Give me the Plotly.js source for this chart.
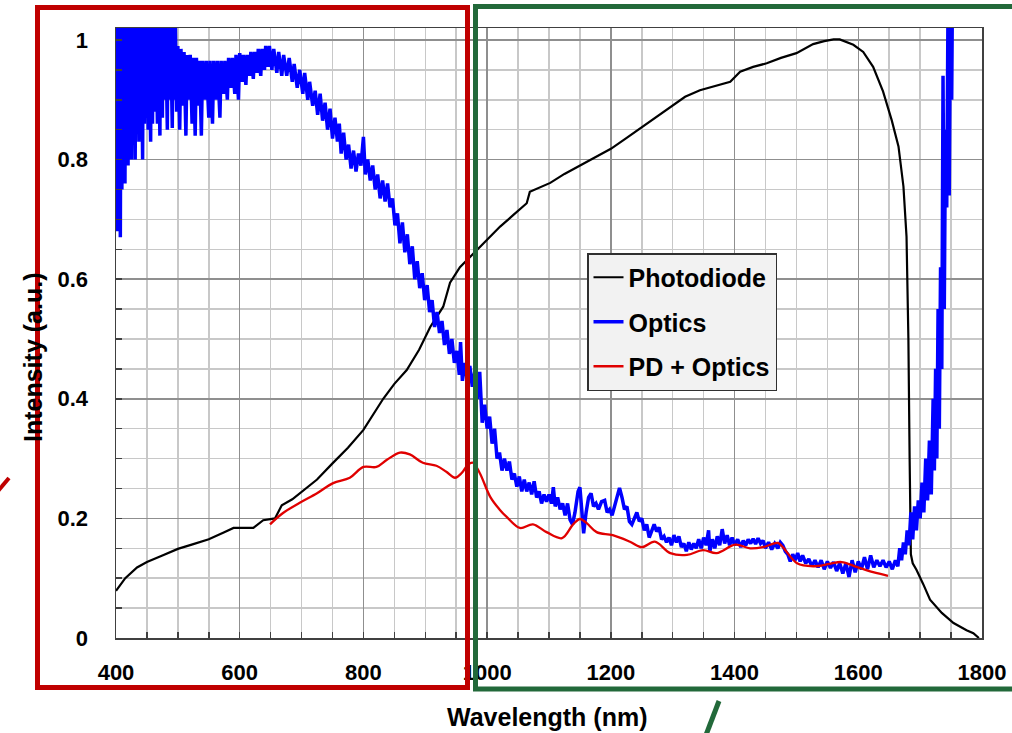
<!DOCTYPE html>
<html>
<head>
<meta charset="utf-8">
<script src="https://cdn.plot.ly/plotly-3.0.1.min.js"></script>
<style>html,body{margin:0;padding:0;background:#fff;}#chart{width:1012px;height:733px;}</style>
</head>
<body>
<div id="chart"></div>
<script>
// ---- data ----
const seriesNames = ["Photodiode", "Optics", "PD + Optics"];
const xTickValues = [400, 600, 800, 1000, 1200, 1400, 1600, 1800];
const yTickValues = [0, 0.2, 0.4, 0.6, 0.8, 1];
const yTickLabels = ["0", "0.2", "0.4", "0.6", "0.8", "1"];

const photodiodePoints = [
 [400,0.079],[415,0.10],[434,0.118],[450,0.127],[475,0.138],[500,0.149],[525,0.157],[550,0.165],
 [575,0.177],[590,0.184],[622,0.184],[638,0.197],[657,0.2],[662,0.21],[668,0.222],[685,0.232],
 [700,0.244],[725,0.265],[750,0.292],[775,0.318],[800,0.348],[815,0.372],[832,0.40],[850,0.425],[870,0.448],
 [890,0.482],[908,0.52],[929,0.554],[940,0.594],[956,0.62],[972,0.637],[993,0.66],[1021,0.688],
 [1042,0.707],[1064,0.727],[1069,0.746],[1102,0.761],[1125,0.776],[1150,0.79],[1175,0.805],
 [1200,0.818],[1225,0.836],[1247,0.852],[1274,0.872],[1300,0.89],[1320,0.905],[1344,0.916],
 [1355,0.919],[1393,0.930],[1409,0.947],[1430,0.955],[1452,0.961],[1475,0.97],[1500,0.978],
 [1527,0.993],[1545,0.998],[1560,1.001],[1570,1.001],[1592,0.992],[1608,0.98],[1624,0.955],
 [1640,0.914],[1654,0.866],[1665,0.822],[1673,0.755],[1678,0.671],[1681,0.5],[1683,0.3],
 [1685,0.14],[1688,0.125],[1694,0.114],[1705,0.09],[1716,0.064],[1735,0.042],[1754,0.025],
 [1775,0.013],[1786,0.008],[1795,0.0]
];

const opticsPoints = [
 [400,0.74],[401,1.03],[402.5,0.68],[403.5,1.03],[405,0.80],[406,1.03],[407,0.67],[408,1.03],
 [409.5,0.75],[410.5,1.03],[412,0.78],[413,1.03],[414.5,0.76],[415.5,1.03],[417,0.80],[418,1.03],
 [419.5,0.79],[420.5,1.03],[422,0.82],[423,1.03],[425,0.80],[426,1.03],[428,0.85],[429,1.03],
 [431,0.80],[432,1.03],[434,0.86],[435,1.03],[437,0.83],[438,1.03],[440,0.87],[441,1.03],
 [443,0.80],[444,1.03],[446,0.86],[447,1.03],[449,0.87],[450,1.03],[452,0.85],[453,1.03],
 [456,0.83],[457,1.03],[459,0.86],[460,1.03],[463,0.88],[464,1.03],[467,0.86],[468,1.03],
 [471,0.84],[472,1.03],[475,0.87],[476,1.03],[479,0.90],[480,1.03],[483,0.85],[484,1.03],
 [487,0.90],[488,1.03],[491,0.853],[492,1.03],[495,0.90],[496,1.02],
 [498,0.88],[500,0.99],[503,0.85],[505,0.985],[508,0.89],[510,0.98],[513,0.84],[515,0.975],
 [518,0.90],[520,0.975],[523,0.86],[525,0.97],[528,0.84],[530,0.97],[533,0.89],[535,0.965],
 [538,0.84],[540,0.965],[544,0.90],[546,0.965],[550,0.87],[552,0.965],[556,0.86],[558,0.965],
 [562,0.90],[564,0.965],[568,0.87],[570,0.965],[574,0.91],[576,0.965],[580,0.90],[582,0.97],
 [586,0.92],[588,0.97],[592,0.91],[594,0.975],[598,0.90],[600,0.978],[604,0.93],[606,0.975],
 [610,0.925],[612,0.975],[616,0.94],[618,0.98],[622,0.935],[624,0.98],[628,0.945],[630,0.985],
 [634,0.94],[636,0.985],[640,0.95],[642,0.99],[646,0.955],[648,0.99],
 [652,0.95],[655,0.985],[660,0.945],[663,0.98],[668,0.94],[671,0.975],[676,0.94],[680,0.97],
 [685,0.93],[688,0.96],[693,0.92],[697,0.95],[702,0.91],[705,0.945],[710,0.90],[713,0.93],
 [718,0.89],[722,0.915],[726,0.875],[730,0.91],[734,0.865],[738,0.895],[742,0.85],[746,0.885],
 [750,0.835],[754,0.87],[758,0.83],[761,0.86],[764,0.81],[768,0.845],[772,0.80],[776,0.825],
 [780,0.785],[784,0.815],[788,0.78],[792,0.81],[796,0.79],[800,0.838],[803,0.775],[807,0.80],
 [811,0.765],[815,0.79],[819,0.75],[823,0.775],[827,0.735],[831,0.765],[835,0.73],[839,0.76],
 [843,0.72],[847,0.735],[851,0.69],[855,0.71],[859,0.66],[863,0.695],[867,0.645],[871,0.675],
 [875,0.625],[879,0.655],[883,0.60],[887,0.63],[891,0.585],[895,0.61],[899,0.565],[903,0.59],
 [907,0.545],[911,0.565],[915,0.52],[919,0.545],[923,0.51],[927,0.53],[931,0.49],[935,0.515],
 [939,0.475],[943,0.50],[947,0.46],[951,0.48],[955,0.44],[957,0.495],[960,0.43],[964,0.46],
 [968,0.43],[972,0.455],[976,0.42],[980,0.445],[984,0.40],[988,0.445],[992,0.36],[996,0.39],
 [1000,0.35],[1004,0.37],[1008,0.325],[1012,0.35],[1016,0.30],[1020,0.31],[1024,0.28],[1028,0.30],
 [1032,0.28],[1036,0.295],[1040,0.265],[1044,0.275],[1048,0.253],[1052,0.27],[1056,0.245],
 [1060,0.265],[1064,0.245],[1068,0.26],[1072,0.24],[1076,0.262],[1080,0.235],[1084,0.245],
 [1088,0.225],[1092,0.24],[1096,0.228],[1100,0.24],[1104,0.225],[1107,0.252],[1110,0.22],
 [1114,0.235],[1118,0.215],[1122,0.225],[1126,0.205],[1130,0.225],[1134,0.198],[1138,0.19],
 [1142,0.21],[1147,0.245],[1150,0.252],[1153,0.21],[1156,0.175],[1160,0.21],[1164,0.235],
 [1168,0.242],[1172,0.22],[1176,0.225],[1180,0.215],[1185,0.228],[1190,0.23],[1194,0.21],
 [1198,0.215],[1202,0.205],[1206,0.22],[1210,0.24],[1214,0.251],[1218,0.235],[1222,0.215],
 [1226,0.22],[1230,0.195],[1234,0.19],[1238,0.2],[1242,0.21],[1246,0.195],[1250,0.2],
 [1254,0.18],[1258,0.19],[1262,0.168],[1266,0.18],[1270,0.19],[1274,0.178],[1278,0.185],
 [1282,0.165],[1286,0.17],[1290,0.16],[1294,0.168],[1298,0.155],[1302,0.172],[1306,0.16],
 [1310,0.17],[1314,0.152],[1318,0.158],[1322,0.145],[1326,0.16],[1330,0.148],[1334,0.158],
 [1338,0.15],[1342,0.165],[1346,0.15],[1350,0.168],[1354,0.155],[1358,0.18],[1360,0.145],
 [1364,0.165],[1368,0.15],[1372,0.17],[1376,0.155],[1380,0.182],[1384,0.158],[1388,0.172],
 [1392,0.155],[1396,0.168],[1400,0.155],[1405,0.165],[1410,0.152],[1414,0.163],[1418,0.155],
 [1422,0.165],[1426,0.158],[1430,0.166],[1434,0.157],[1438,0.167],[1442,0.158],[1446,0.163],
 [1450,0.15],[1455,0.16],[1460,0.148],[1465,0.158],[1470,0.15],[1474,0.16],[1478,0.155],
 [1482,0.145],[1486,0.14],[1490,0.128],[1494,0.14],[1498,0.13],[1502,0.142],[1506,0.128],
 [1510,0.138],[1515,0.125],[1520,0.132],[1525,0.12],[1530,0.13],[1535,0.118],[1540,0.13],
 [1545,0.115],[1550,0.128],[1555,0.117],[1560,0.127],[1565,0.112],[1570,0.125],[1575,0.108],
 [1580,0.125],[1585,0.102],[1590,0.13],[1595,0.11],[1600,0.128],[1605,0.115],[1610,0.135],
 [1615,0.115],[1620,0.138],[1625,0.118],[1630,0.13],[1635,0.12],[1640,0.13],[1645,0.118],
 [1650,0.128],[1655,0.115],[1660,0.13],[1664,0.12],[1667,0.15],[1670,0.13],[1673,0.16],
 [1676,0.14],[1679,0.18],[1682,0.155],[1685,0.21],[1688,0.165],[1691,0.22],[1694,0.18],
 [1697,0.23],[1700,0.2],[1703,0.26],[1706,0.21],[1709,0.30],[1712,0.23],[1715,0.33],
 [1718,0.24],[1721,0.40],[1723,0.28],[1725,0.45],[1727,0.30],[1729,0.55],[1731,0.35],
 [1733,0.62],[1735,0.45],[1737,0.94],[1739,0.55],[1741,0.85],[1743,0.72],[1745,1.05],
 [1747,0.74],[1749,1.05],[1751,0.9],[1752,1.05]
];

const pdOpticsPoints = [
 [649,0.19],[670,0.209],[697,0.226],[725,0.242],[751,0.259],[778,0.268],[800,0.286],[821,0.286],
 [838,0.298],[859,0.310],[875,0.307],[896,0.293],[918,0.288],[934,0.278],[948,0.268],[959,0.276],
 [969,0.29],[977,0.293],[988,0.276],[1005,0.236],[1020,0.215],[1032,0.202],[1053,0.184],
 [1074,0.19],[1096,0.177],[1121,0.167],[1139,0.19],[1150,0.199],[1161,0.192],[1177,0.177],
 [1203,0.172],[1231,0.161],[1250,0.152],[1271,0.161],[1296,0.142],[1323,0.139],[1349,0.147],
 [1371,0.142],[1401,0.156],[1425,0.15],[1446,0.152],[1470,0.159],[1478,0.152],[1501,0.125],
 [1527,0.12],[1554,0.124],[1573,0.127],[1597,0.119],[1624,0.11],[1648,0.104]
];

// ---- chart ----
const FONT = "Liberation Sans, Arial, sans-serif";
function xs(p){ return p.map(d => d[0]); }
function ys(p){ return p.map(d => d[1]); }

const traces = [
  {x: xs(photodiodePoints), y: ys(photodiodePoints), name: seriesNames[0], legendgroup: "a",
   mode: "lines", line: {color: "#000000", width: 2.2}},
  {x: xs(opticsPoints), y: ys(opticsPoints), name: seriesNames[1], legendgroup: "b",
   mode: "lines", line: {color: "#0000ff", width: 3.5}},
  {x: xs(pdOpticsPoints), y: ys(pdOpticsPoints), name: seriesNames[2], legendgroup: "c",
   mode: "lines", line: {color: "#e00000", width: 2.3, shape: "spline"}}
];

// pixel -> paper helpers for the overlay marks (plot area 116..982 x 28..638)
const L = 116, R = 982, T = 28, B = 638;
const px = v => (v - L) / (R - L);
const py = v => (B - v) / (B - T);

const layout = {
  width: 1012, height: 733,
  margin: {l: L, r: 1012 - R, t: T, b: 733 - B, pad: 0},
  paper_bgcolor: "#ffffff", plot_bgcolor: "#ffffff",
  font: {family: FONT, color: "#000"},
  showlegend: true,
  legend: {
    x: px(587), y: py(253), xanchor: "left", yanchor: "top",
    bgcolor: "#f2f2f2", bordercolor: "#303030", borderwidth: 1.5,
    font: {family: FONT, size: 25, weight: "bold", color: "#000"},
    tracegroupgap: 9, traceorder: "grouped", itemwidth: 30
  },
  xaxis: {
    range: [400, 1800], tickvals: xTickValues, ticktext: xTickValues.map(String),
    showgrid: true, gridcolor: "#8f8f8f", gridwidth: 1.5,
    ticks: "inside", ticklen: 6, tickcolor: "#404040", tickwidth: 1.5,
    showline: true, linecolor: "#404040", linewidth: 1.5, mirror: true,
    zeroline: false, ticklabelstandoff: 14,
    tickfont: {family: FONT, size: 22, weight: "bold", color: "#000"},
    minor: {dtick: 50, showgrid: true, gridcolor: "#c8c8c8", gridwidth: 1.5,
            ticks: "inside", ticklen: 6, tickcolor: "#404040"}
  },
  yaxis: {
    range: [0, 1.02], tickvals: yTickValues, ticktext: yTickLabels,
    showgrid: true, gridcolor: "#8f8f8f", gridwidth: 1.5,
    ticks: "inside", ticklen: 6, tickcolor: "#404040", tickwidth: 1.5,
    showline: true, linecolor: "#404040", linewidth: 1.5, mirror: true,
    zeroline: false, ticklabelstandoff: 22,
    tickfont: {family: FONT, size: 22, weight: "bold", color: "#000"},
    minor: {dtick: 0.05, showgrid: true, gridcolor: "#c8c8c8", gridwidth: 1.5,
            ticks: "inside", ticklen: 6, tickcolor: "#404040"}
  },
  annotations: [
    {text: "<b>Wavelength (nm)</b>", xref: "paper", yref: "paper", x: px(547), y: py(717),
     xanchor: "center", yanchor: "middle", showarrow: false,
     font: {family: FONT, size: 25, color: "#000"}},
    {text: "<b>Intensity (a.u.)</b>", xref: "paper", yref: "paper", x: px(33), y: py(358),
     xanchor: "center", yanchor: "middle", showarrow: false, textangle: -90,
     font: {family: FONT, size: 25, color: "#000"}}
  ],
  shapes: [
    {type: "rect", xref: "paper", yref: "paper", layer: "above",
     x0: px(37.5), x1: px(467.5), y0: py(687.5), y1: py(7.5),
     line: {color: "#c00000", width: 5}},
    {type: "rect", xref: "paper", yref: "paper", layer: "above",
     x0: px(475.5), x1: px(1025), y0: py(689), y1: py(6.5),
     line: {color: "#22693a", width: 5}},
    {type: "line", xref: "paper", yref: "paper", layer: "above",
     x0: px(-2), y0: py(491), x1: px(9), y1: py(478),
     line: {color: "#c00000", width: 4}},
    {type: "line", xref: "paper", yref: "paper", layer: "above",
     x0: px(719), y0: py(701), x1: px(706), y1: py(735),
     line: {color: "#22693a", width: 5}}
  ]
};

Plotly.newPlot("chart", traces, layout, {staticPlot: true, displayModeBar: false});
</script>
</body>
</html>
